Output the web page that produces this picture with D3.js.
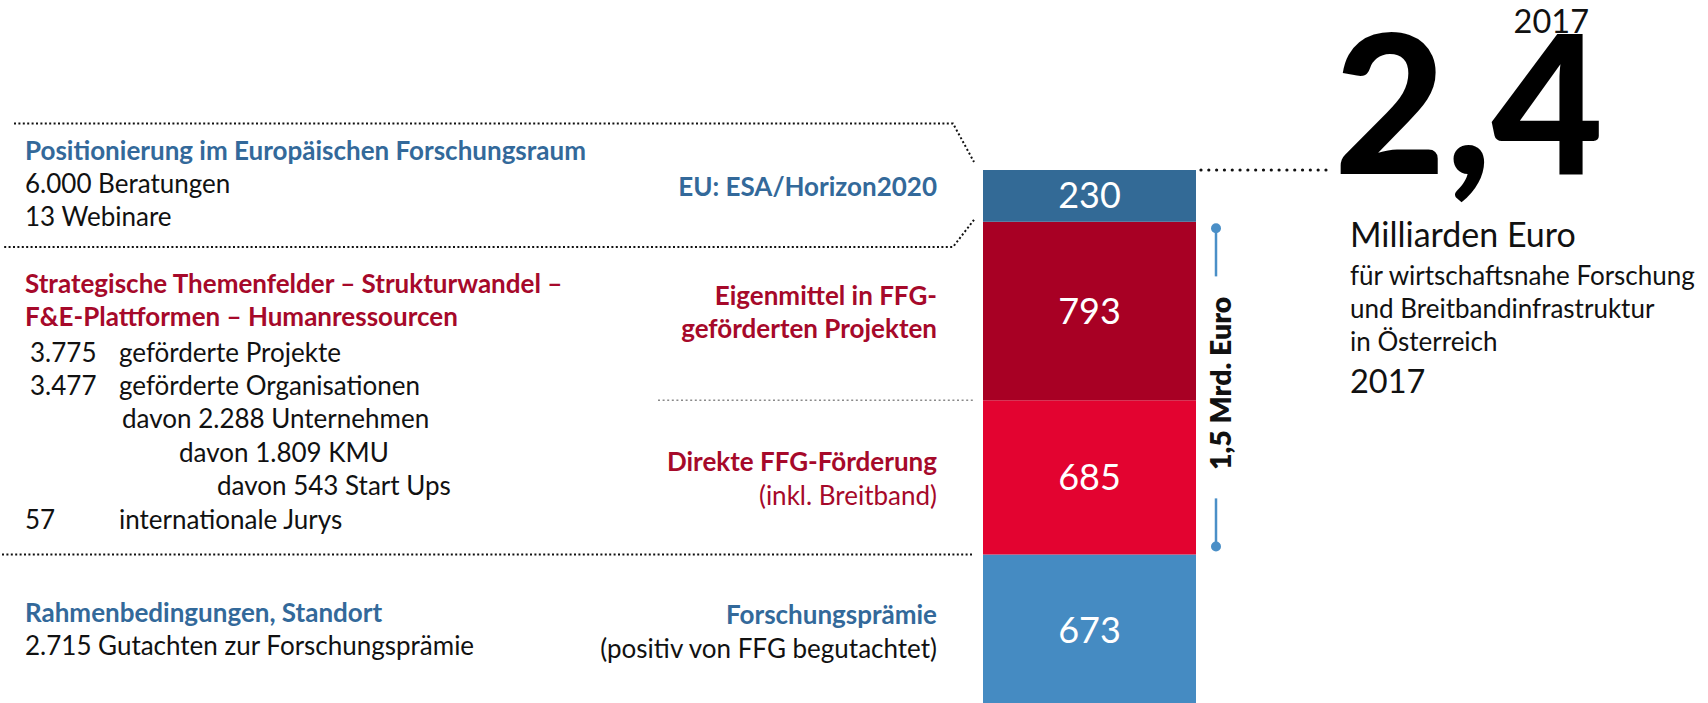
<!DOCTYPE html>
<html>
<head>
<meta charset="utf-8">
<script src="https://cdn.jsdelivr.net/npm/d3@7"></script>
<style>
  body { margin: 0; background: #fff; overflow: hidden; }
  text { font-family: Lato, "Open Sans", sans-serif; }
</style>
</head>
<body>
<script>
// FFG 2017 – Mittel für wirtschaftsnahe Forschung, Mio. Euro (von unten nach oben)
var categories = ["Forschungsprämie", "Direkte FFG-Förderung", "Eigenmittel", "EU"];
var values = [673, 685, 793, 230];
var categoryLabels = [
    ["Forschungsprämie", "(positiv von FFG begutachtet)"],
    ["Direkte FFG-Förderung", "(inkl. Breitband)"],
    ["Eigenmittel in FFG-", "geförderten Projekten"],
    ["EU: ESA/Horizon2020"]
];
var year = "2017";
var totalLabel = "2,4";
var totalUnit = "Milliarden Euro";
var totalLines = ["für wirtschaftsnahe Forschung", "und Breitbandinfrastruktur", "in Österreich"];
var bracketLabel = "1,5 Mrd. Euro";

// Texte links
var euTitle = "Positionierung im Europäischen Forschungsraum";
var euFacts = ["6.000 Beratungen", "13 Webinare"];
var strategyTitle = ["Strategische Themenfelder – Strukturwandel –", "F&E-Plattformen – Humanressourcen"];
var strategyNumbers = ["3.775", "3.477", "", "", "", "57"];
var strategyTexts = ["geförderte Projekte", "geförderte Organisationen", "davon 2.288 Unternehmen",
                     "davon 1.809 KMU", "davon 543 Start Ups", "internationale Jurys"];
var frameTitle = "Rahmenbedingungen, Standort";
var frameFacts = ["2.715 Gutachten zur Forschungsprämie"];

function init() {
    var w = 1708;
    var h = 703;
    var blue = "#33699a";
    var red = "#a6092a";
    var lineH = 33.4;
    var fs = "26px";

    var barColor = d3.scaleOrdinal()
        .domain(categories)
        .range(["#458bc2", "#e30330", "#a80024", "#336a96"]);
    var labelColor = d3.scaleOrdinal()
        .domain(categories)
        .range([blue, red, red, blue]);
    var subColor = d3.scaleOrdinal()
        .domain(categories)
        .range(["#111", red, red, blue]);

    var total = d3.sum(values);
    var row = {};
    categories.forEach(function (c, i) { row[c] = values[i]; });
    var series = d3.stack().keys(categories)([row]);

    var xScale = d3.scaleBand().domain([year]).range([983, 1196]).padding(0);
    var yScale = d3.scaleLinear().domain([0, total]).range([706, 170]);
    var x0 = xScale(year);
    var bw = xScale.bandwidth();

    var svg = d3.select("body").append("svg")
        .attr("width", w)
        .attr("height", h);

    // gestapelter Balken
    svg.append("g").selectAll("rect")
        .data(series)
        .enter().append("rect")
        .attr("x", x0)
        .attr("y", function (d) { return yScale(d[0][1]); })
        .attr("width", bw)
        .attr("height", function (d) { return yScale(d[0][0]) - yScale(d[0][1]); })
        .attr("fill", function (d) { return barColor(d.key); });

    // Werte im Balken
    svg.append("g").selectAll("text")
        .data(series)
        .enter().append("text")
        .attr("x", x0 + bw / 2)
        .attr("y", function (d) { return (yScale(d[0][0]) + yScale(d[0][1])) / 2; })
        .attr("dy", "0.35em")
        .attr("text-anchor", "middle")
        .attr("fill", "#fff")
        .style("font-size", "36px")
        .text(function (d) { return d[0][1] - d[0][0]; });

    // Beschriftung links vom Balken
    svg.append("g").selectAll("text")
        .data(series)
        .enter().append("text")
        .attr("text-anchor", "end")
        .style("font-size", fs)
        .each(function (d, i) {
            var mid = (yScale(d[0][0]) + yScale(d[0][1])) / 2;
            var lines = categoryLabels[i];
            var base = mid - (lines.length - 1) * 6;
            var t = d3.select(this);
            lines.forEach(function (l, j) {
                t.append("tspan")
                    .attr("x", x0 - 46)
                    .attr("y", base + j * lineH)
                    .attr("fill", j === 0 ? labelColor(d.key) : subColor(d.key))
                    .style("font-weight", j === 0 || (i === 2) ? 700 : 400)
                    .text(l);
            });
        });

    // Trennlinien
    var dotted = function (sel, col, sw, dash) {
        return sel.attr("fill", "none").attr("stroke", col)
            .attr("stroke-width", sw).attr("stroke-dasharray", dash);
    };
    var line = d3.line();
    var yEU = yScale(total - values[3]);
    dotted(svg.append("path").attr("d", line([[14, 123.5], [953, 123.5], [974, yScale(total) - 8]])), "#111", 2, "2,2.4");
    dotted(svg.append("path").attr("d", line([[974, yEU - 2], [953, 247], [2, 247]])), "#111", 2, "2,2.4");
    var yMid = yScale(values[0] + values[1]);
    dotted(svg.append("path").attr("d", line([[658, yMid], [973, yMid]])), "#8a8a8a", 1.6, "2,2.6");
    var yLow = yScale(values[0]);
    dotted(svg.append("path").attr("d", line([[2, yLow], [973, yLow]])), "#111", 2, "2,2.4");

    // Textblöcke links
    var left = svg.append("g").style("font-size", fs);
    left.append("text").attr("x", 25).attr("y", 160)
        .attr("fill", blue).style("font-weight", 700).text(euTitle);
    left.selectAll(".eu").data(euFacts).enter().append("text")
        .attr("x", 25).attr("y", function (d, i) { return 193 + i * lineH; })
        .attr("fill", "#111").text(function (d) { return d; });

    left.selectAll(".st").data(strategyTitle).enter().append("text")
        .attr("x", 25).attr("y", function (d, i) { return 293 + i * lineH; })
        .attr("fill", red).style("font-weight", 700).text(function (d) { return d; });
    var indent = [119, 119, 122, 179, 217, 119];
    strategyTexts.forEach(function (s, i) {
        var yy = 361.5 + i * lineH;
        if (strategyNumbers[i]) {
            left.append("text").attr("x", strategyNumbers[i].length > 2 ? 30 : 25).attr("y", yy)
                .attr("fill", "#111").text(strategyNumbers[i]);
        }
        left.append("text").attr("x", indent[i]).attr("y", yy)
            .attr("fill", "#111").text(s);
    });

    left.append("text").attr("x", 25).attr("y", 621.7)
        .attr("fill", blue).style("font-weight", 700).text(frameTitle);
    left.selectAll(".fr").data(frameFacts).enter().append("text")
        .attr("x", 25).attr("y", function (d, i) { return 655 + i * lineH; })
        .attr("fill", "#111").text(function (d) { return d; });

    // Klammer 1,5 Mrd. Euro
    var bx = 1216;
    var bTop = yScale(total - values[3]) + 6.5;
    var bBot = yScale(values[0]) - 8;
    var bMid = (bTop + bBot) / 2;
    var br = svg.append("g").attr("stroke", "#4a8fc7").attr("fill", "#4a8fc7");
    br.append("line").attr("x1", bx).attr("x2", bx).attr("y1", bTop).attr("y2", bMid - 111).attr("stroke-width", 2.5);
    br.append("line").attr("x1", bx).attr("x2", bx).attr("y1", bMid + 111).attr("y2", bBot).attr("stroke-width", 2.5);
    br.append("circle").attr("cx", bx).attr("cy", bTop).attr("r", 5).attr("stroke", "none");
    br.append("circle").attr("cx", bx).attr("cy", bBot).attr("r", 5).attr("stroke", "none");
    svg.append("text")
        .attr("transform", "translate(" + (bx + 15) + "," + (bMid - 4) + ") rotate(-90)")
        .attr("text-anchor", "middle")
        .attr("fill", "#111")
        .style("font-size", "28.5px").style("font-weight", 800)
        .text(bracketLabel);

    // Gesamtsumme rechts
    var yTop = yScale(total);
    dotted(svg.append("path").attr("d", line([[x0 + bw + 5, yTop], [1332, yTop]])), "#111", 3.2, "0.01,7.8")
        .attr("stroke-linecap", "round");
    svg.append("text").attr("x", 1334).attr("y", yTop + 3.5)
        .attr("fill", "#000")
        .style("font-size", "193px").style("font-weight", 900)
        .text(totalLabel);
    svg.append("text").attr("x", 1589).attr("y", 33.3)
        .attr("text-anchor", "end").attr("fill", "#111")
        .style("font-size", "32.5px")
        .text(year);
    svg.append("text").attr("x", 1350).attr("y", 247.3)
        .attr("fill", "#111").style("font-size", "34px")
        .text(totalUnit);
    svg.selectAll(".tl").data(totalLines).enter().append("text")
        .attr("x", 1350).attr("y", function (d, i) { return 285 + i * 33; })
        .attr("fill", "#111").style("font-size", fs)
        .text(function (d) { return d; });
    svg.append("text").attr("x", 1350).attr("y", 393.3)
        .attr("fill", "#111").style("font-size", "32.5px")
        .text(year);
}

window.onload = init;
</script>
</body>
</html>
